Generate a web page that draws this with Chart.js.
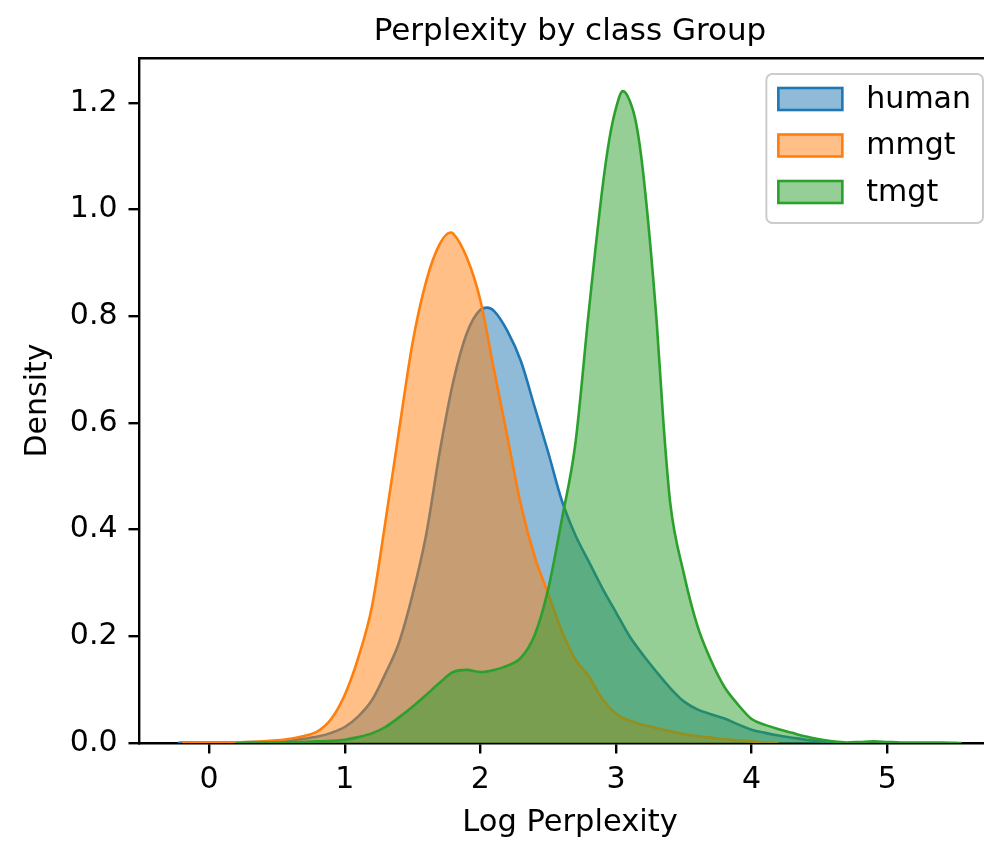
<!DOCTYPE html>
<html>
<head>
<meta charset="utf-8">
<title>Perplexity by class Group</title>
<script src="https://cdn.jsdelivr.net/npm/chart.js@4.4.0/dist/chart.umd.min.js"></script>
<style>
    html, body { margin: 0; padding: 0; background: #fff; overflow: hidden; }
    #chart { display: block; }
</style>
</head>
<body>
<canvas id="chart" width="1003" height="841"></canvas>
<script>
/* ── data ── */

const xTicks = [0, 1, 2, 3, 4, 5];
const yTicks = [0, 0.2, 0.4, 0.6, 0.8, 1.0, 1.2];

const humanX = [-0.23, -0.2, -0.1, 0.0, 0.1, 0.2, 0.3, 0.4, 0.5, 0.6, 0.7, 0.8, 0.9, 1.0, 1.1, 1.2, 1.3, 1.4, 1.5, 1.6,
    1.7, 1.8, 1.9, 2.0, 2.05, 2.1, 2.2, 2.3, 2.4, 2.5, 2.6, 2.7, 2.8, 2.9, 3.0, 3.1, 3.2, 3.3, 3.4, 3.5,
    3.6, 3.7, 3.8, 3.9, 4.0, 4.1, 4.2, 4.3, 4.4, 4.5, 4.6, 4.7];
const humanY = [0, 0.001, 0.001, 0.001, 0.001, 0.001, 0.002, 0.002, 0.003, 0.005, 0.008, 0.012, 0.019, 0.03, 0.05, 0.08, 0.13, 0.188, 0.278, 0.39,
    0.545, 0.677, 0.768, 0.812, 0.816, 0.81, 0.772, 0.715, 0.63, 0.545, 0.455, 0.39, 0.34, 0.29, 0.245, 0.2, 0.165, 0.133, 0.103, 0.078,
    0.063, 0.054, 0.046, 0.035, 0.025, 0.019, 0.014, 0.01, 0.006, 0.003, 0.001, 0];

const mmgtX = [-0.2, -0.1, 0.0, 0.1, 0.2, 0.3, 0.4, 0.5, 0.6, 0.7, 0.8, 0.9, 1.0, 1.1, 1.2, 1.3, 1.4, 1.5, 1.6, 1.7,
    1.78, 1.8, 1.9, 2.0, 2.1, 2.2, 2.3, 2.4, 2.5, 2.6, 2.7, 2.8, 2.9, 3.0, 3.1, 3.2, 3.3, 3.4, 3.5, 3.6,
    3.7, 3.8, 3.9, 4.0, 4.1, 4.2];
const mmgtY = [0, 0.001, 0.001, 0.001, 0.001, 0.002, 0.003, 0.005, 0.008, 0.013, 0.022, 0.045, 0.09, 0.16, 0.255, 0.415, 0.585, 0.75, 0.865, 0.935,
    0.957, 0.955, 0.91, 0.83, 0.70, 0.573, 0.445, 0.35, 0.28, 0.21, 0.157, 0.125, 0.082, 0.055, 0.042, 0.034, 0.028, 0.022, 0.017, 0.013,
    0.01, 0.007, 0.005, 0.003, 0.001, 0];

const tmgtX = [0.2, 0.3, 0.4, 0.5, 0.6, 0.7, 0.8, 0.9, 1.0, 1.1, 1.2, 1.3, 1.4, 1.5, 1.6, 1.7, 1.8, 1.9, 2.0, 2.1,
    2.2, 2.3, 2.4, 2.5, 2.6, 2.7, 2.8, 2.9, 2.95, 3.0, 3.05, 3.1, 3.15, 3.2, 3.3, 3.35, 3.4, 3.5, 3.6, 3.7,
    3.8, 3.9, 4.0, 4.1, 4.2, 4.3, 4.4, 4.5, 4.6, 4.7, 4.8, 4.9, 5.0, 5.1, 5.2, 5.3, 5.4, 5.55];
const tmgtY = [0, 0.001, 0.001, 0.001, 0.002, 0.002, 0.003, 0.004, 0.006, 0.011, 0.018, 0.03, 0.048, 0.068, 0.09, 0.113, 0.133, 0.137, 0.133, 0.137,
    0.145, 0.16, 0.202, 0.288, 0.418, 0.56, 0.81, 1.04, 1.13, 1.19, 1.222, 1.205, 1.16, 1.07, 0.79, 0.6, 0.45, 0.318, 0.22, 0.155,
    0.105, 0.072, 0.045, 0.034, 0.026, 0.019, 0.012, 0.007, 0.003, 0.001, 0.002, 0.003, 0.002, 0.001, 0.001, 0.001, 0.001, 0];

const labels = ['human', 'mmgt', 'tmgt'];
const colors = ['#1f77b4', '#ff7f0e', '#2ca02c'];
const fills = ['rgba(31,119,180,0.5)', 'rgba(255,127,14,0.5)', 'rgba(44,160,44,0.5)'];

const FONT = 'DejaVu Sans';
const INK = '#000';

const toPoints = (xs, ys) => xs.map((x, i) => ({ x, y: ys[i] }));

/* ── frame + legend, drawn the matplotlib way ── */
const mplDecor = {
    id: 'mplDecor',
    afterDraw(chart) {
        const { ctx, chartArea: a } = chart;
        ctx.save();

        // right spine (top/left/bottom come from the axes)
        ctx.strokeStyle = INK;
        ctx.lineWidth = 2.4;
        ctx.beginPath();
        ctx.moveTo(a.right, a.top);
        ctx.lineTo(a.right, a.bottom);
        ctx.stroke();

        // legend box in the upper right corner
        ctx.font = `30px "${FONT}"`;
        const textW = Math.max(...labels.map(t => ctx.measureText(t).width));
        const pad = 12, sw = 64, sh = 22, gap = 24, row = 46.5;
        const w = pad + sw + gap + textW + pad;
        const h = 149;
        const left = a.right - 18 - w;
        const top = a.top + 16;

        ctx.fillStyle = 'rgba(255,255,255,0.8)';
        ctx.strokeStyle = '#cccccc';
        ctx.lineWidth = 2;
        ctx.beginPath();
        ctx.roundRect(left, top, w, h, 6);
        ctx.fill();
        ctx.stroke();

        chart.data.datasets.forEach((ds, i) => {
            const cy = top + 25 + i * row;
            ctx.fillStyle = ds.backgroundColor;
            ctx.fillRect(left + pad, cy - sh / 2, sw, sh);
            ctx.strokeStyle = ds.borderColor;
            ctx.lineWidth = 2.6;
            ctx.strokeRect(left + pad, cy - sh / 2, sw, sh);

            ctx.fillStyle = INK;
            ctx.textBaseline = 'middle';
            ctx.textAlign = 'left';
            ctx.fillText(ds.label, left + pad + sw + gap, cy + 1);
        });
        ctx.restore();
    },
};

const datasets = [
    toPoints(humanX, humanY),
    toPoints(mmgtX, mmgtY),
    toPoints(tmgtX, tmgtY),
].map((data, i) => ({
    label: labels[i],
    data,
    borderColor: colors[i],
    backgroundColor: fills[i],
    borderWidth: 2.6,
    fill: 'origin',
    pointRadius: 0,
    cubicInterpolationMode: 'monotone',
    order: 3 - i, // human at the bottom, tmgt on top
}));

const tickGrid = {
    drawOnChartArea: false,
    drawTicks: true,
    tickLength: 10.5,
    color: INK,
    lineWidth: 2.4,
};
const spine = { display: true, color: INK, width: 2.4 };

new Chart(document.getElementById('chart'), {
    type: 'line',
    data: { datasets },
    plugins: [mplDecor],
    options: {
        responsive: false,
        animation: false,
        events: [],
        layout: { padding: { left: 0, right: 2, top: 0, bottom: 0 } },
        plugins: {
            legend: { display: false },
            tooltip: { enabled: false },
            title: { display: false },
        },
        scales: {
            x: {
                type: 'linear',
                position: 'bottom',
                min: -0.517,
                max: 5.839,
                afterBuildTicks: s => { s.ticks = xTicks.map(v => ({ value: v })); },
                afterFit: s => { s.height = 98; },
                ticks: { font: { family: FONT, size: 30 }, color: INK, padding: 9, callback: v => String(v) },
                grid: tickGrid,
                border: spine,
                title: {
                    display: true,
                    text: 'Log Perplexity',
                    font: { family: FONT, size: 30.5 },
                    color: INK,
                    padding: { top: 0, bottom: 0 },
                },
            },
            top: {
                type: 'linear',
                position: 'top',
                min: -0.517,
                max: 5.839,
                afterFit: s => { s.height = 58; },
                ticks: { display: false },
                grid: { display: false, drawTicks: false },
                border: spine,
                title: {
                    display: true,
                    text: 'Perplexity by class Group',
                    font: { family: FONT, size: 31 },
                    color: INK,
                    padding: { top: 13, bottom: 0 },
                },
            },
            y: {
                min: 0,
                max: 1.284,
                afterBuildTicks: s => { s.ticks = yTicks.map(v => ({ value: v })); },
                afterFit: s => { s.width = 139; },
                ticks: { font: { family: FONT, size: 30 }, color: INK, padding: 11, callback: v => v.toFixed(1) },
                grid: tickGrid,
                border: spine,
                title: {
                    display: true,
                    text: 'Density',
                    font: { family: FONT, size: 30 },
                    color: INK,
                    padding: { top: 20, bottom: 0 },
                },
            },
        },
    },
});
</script>
</body>
</html>
